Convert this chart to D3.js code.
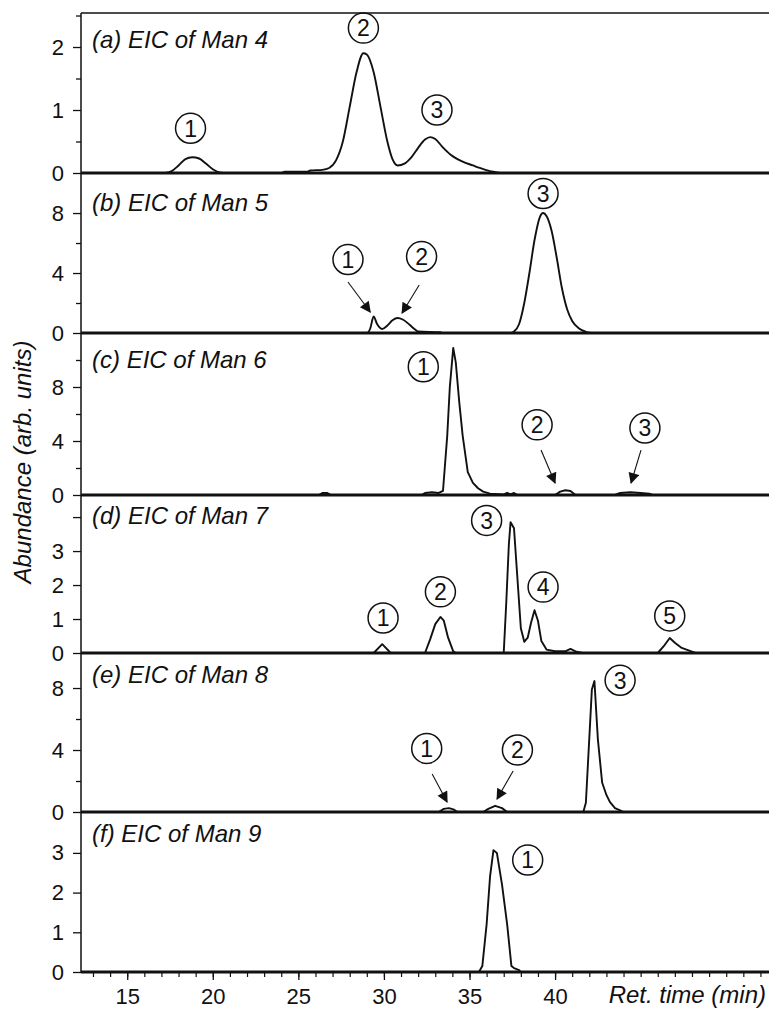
<!DOCTYPE html>
<html>
<head>
<meta charset="utf-8">
<script src="https://cdn.jsdelivr.net/npm/d3@7"></script>
<style>
  body { margin: 0; background: #fff; }
  text { font-family: "Liberation Sans", Arial, sans-serif; fill: #111; }
</style>
</head>
<body>
<div id="chart-area"></div>
<script>
// chromatogram traces, [retention time (min), abundance]
const man4 = [[12.3,0],[17.2,0],[17.6,0.03],[18.0,0.12],[18.4,0.22],[18.8,0.25],[19.2,0.23],[19.6,0.15],[20.0,0.06],[20.4,0.01],[20.8,0],
  [24.0,0],[24.2,0.02],[25.5,0.02],[25.7,0.04],[26.4,0.05],[26.8,0.08],[27.2,0.2],[27.6,0.5],[28.0,1.05],[28.4,1.6],[28.8,1.9],[29.0,1.88],
  [29.4,1.6],[29.8,1.05],[30.2,0.5],[30.5,0.22],[30.8,0.12],[31.2,0.15],[31.6,0.25],[32.0,0.4],[32.4,0.53],[32.7,0.57],[33.0,0.54],
  [33.4,0.42],[33.9,0.29],[34.6,0.18],[35.2,0.12],[35.6,0.08],[36.2,0.03],[36.8,0],[52.5,0]];
const man5 = [[12.3,0],[29.0,0],[29.2,0.3],[29.4,1.1],[29.6,0.6],[29.9,0.27],[30.2,0.5],[30.5,0.85],[30.8,1.0],[31.1,0.9],[31.5,0.55],
  [31.8,0.25],[32.0,0.1],[33.3,0.05],[33.4,0],[37.4,0],[37.6,0.1],[37.9,0.6],[38.2,2.0],[38.5,4.0],[38.8,6.2],[39.1,7.7],[39.3,8.0],
  [39.5,7.8],[39.8,6.8],[40.1,5.0],[40.4,3.0],[40.7,1.6],[41.0,0.8],[41.4,0.3],[41.8,0.08],[42.0,0.02],[42.2,0],[52.5,0]];
const man6 = [[12.3,0],[26.2,0],[26.4,0.15],[26.7,0.15],[26.9,0],[32.2,0],[32.4,0.15],[32.8,0.2],[33.2,0.15],[33.45,0.3],[33.7,4.4],
  [33.85,8.0],[34.05,10.9],[34.2,9.8],[34.4,6.9],[34.6,4.4],[34.9,1.7],[35.2,0.9],[35.5,0.5],[35.8,0.25],[36.2,0.1],[37.0,0.05],
  [37.2,0.15],[37.4,0.05],[37.6,0.15],[37.8,0],[40.0,0],[40.3,0.25],[40.6,0.35],[40.9,0.3],[41.2,0],[43.5,0],[43.8,0.15],[44.4,0.2],
  [45.0,0.15],[45.5,0.1],[45.7,0],[52.5,0]];
const man7 = [[12.3,0],[29.4,0],[29.9,0.26],[30.4,0],[32.4,0],[32.7,0.4],[33.0,0.85],[33.3,1.06],[33.5,0.95],[33.75,0.45],[34.05,0.05],
  [34.2,0],[37.0,0],[37.15,1.5],[37.3,3.2],[37.4,3.85],[37.6,3.67],[37.8,2.2],[38.0,0.73],[38.2,0.33],[38.4,0.45],[38.6,0.9],[38.8,1.26],
  [39.0,0.95],[39.2,0.35],[39.5,0.1],[40.0,0.05],[40.6,0.05],[40.9,0.12],[41.2,0.05],[41.6,0],[46.0,0],[46.35,0.2],[46.7,0.44],[47.0,0.3],
  [47.4,0.15],[47.8,0.08],[48.2,0],[52.5,0]];
const man8 = [[12.3,0],[33.2,0],[33.5,0.2],[33.8,0.25],[34.1,0.15],[34.3,0],[35.8,0],[36.1,0.2],[36.5,0.4],[36.9,0.25],[37.2,0],[41.65,0],
  [41.8,0.6],[42.05,5.8],[42.15,7.9],[42.3,8.45],[42.5,4.7],[42.75,1.9],[43.0,1.1],[43.2,0.65],[43.5,0.25],[43.8,0.1],[44.0,0],[52.5,0]];
const man9 = [[12.3,0],[35.55,0],[35.75,0.15],[36.0,1.2],[36.2,2.4],[36.4,3.07],[36.6,3.0],[36.9,2.2],[37.2,1.2],[37.45,0.15],[37.6,0.1],
  [37.9,0.05],[38.0,0],[52.5,0]];

const traces = [man4, man5, man6, man7, man8, man9];
const titles = ["(a) EIC of Man 4", "(b) EIC of Man 5", "(c) EIC of Man 6", "(d) EIC of Man 7", "(e) EIC of Man 8", "(f) EIC of Man 9"];
const yMax = [2.54, 10.67, 12.0, 4.65, 10.26, 4.03];
const majorTicks = [[0,1,2], [0,4,8], [0,4,8], [0,1,2,3,4], [0,4,8], [0,1,2,3]];
const minorTicks = [[0.5,1.5,2.5], [2,6], [2,6,10], [], [2,6], []];
const xTicks = [15, 20, 25, 30, 35, 40];

// circled peak numbers: [panel, number, time, abundance]
const peakLabels = [[0,1,18.7,0.71],[0,2,28.8,2.3],[0,3,33.1,1.0],
  [1,1,27.9,4.9],[1,2,32.2,5.1],[1,3,39.3,9.3],
  [2,1,32.3,9.5],[2,2,38.95,5.2],[2,3,45.25,4.96],
  [3,1,29.95,1.03],[3,2,33.3,1.8],[3,3,36.0,3.9],[3,4,39.3,1.94],[3,5,46.7,1.09],
  [4,1,32.5,4.1],[4,2,37.8,4.0],[4,3,43.8,8.5],
  [5,1,38.4,2.82]];
// arrows: [panel, fromTime, fromAbund, toTime, toAbund]
const arrows = [[1,27.9,3.4,29.2,1.4],[1,32.06,3.2,31.06,1.33],
  [2,39.18,3.33,40.0,0.89],[2,45.02,3.33,44.44,0.89],
  [4,32.82,2.45,33.69,0.65],[4,37.55,2.65,36.61,0.84]];

const SVG_WIDTH = 769, SVG_HEIGHT = 1009;
const plotLeft = 81, plotRight = 769;
const edges = [13, 173, 333, 495, 653, 812, 972];
const titleDrop = [35, 38, 35, 29, 30, 30];

const svg = d3.select("#chart-area").append("svg")
  .attr("width", SVG_WIDTH).attr("height", SVG_HEIGHT);

svg.append("defs").append("clipPath").attr("id", "plot-clip")
  .append("rect").attr("x", plotLeft).attr("y", edges[0]).attr("width", plotRight - plotLeft).attr("height", edges[6] - edges[0]);
svg.select("defs").append("marker").attr("id", "head")
  .attr("viewBox", "0 0 10 10").attr("refX", 9).attr("refY", 5)
  .attr("markerWidth", 13).attr("markerHeight", 11).attr("markerUnits", "userSpaceOnUse")
  .attr("orient", "auto")
  .append("path").attr("d", "M0,0 L10,5 L0,10 z").attr("fill", "#111");

const x = d3.scaleLinear().domain([12.3, 52.5]).range([plotLeft, plotRight]);

const ys = traces.map((t, i) => d3.scaleLinear().domain([0, yMax[i]]).range([edges[i + 1], edges[i]]));

traces.forEach((trace, i) => {
  const y = ys[i];
  const g = svg.append("g").attr("class", "panel");

  const line = d3.line().x(d => x(d[0])).y(d => y(d[1]))
    .curve(i < 2 ? d3.curveMonotoneX : d3.curveLinear);
  g.append("path").datum(trace)
    .attr("clip-path", "url(#plot-clip)")
    .attr("d", line).attr("fill", "none").attr("stroke", "#111").attr("stroke-width", 1.9)
    .attr("stroke-linejoin", "round");

  // baseline / separator
  g.append("line").attr("x1", plotLeft).attr("x2", plotRight)
    .attr("y1", y(0)).attr("y2", y(0)).attr("stroke", "#111").attr("stroke-width", 3.2);

  const yAxis = d3.axisLeft(y).tickValues(majorTicks[i]).tickSize(8).tickPadding(9)
    .tickFormat(d => (i === 3 && d === 4) ? "" : d);
  const ag = g.append("g").attr("transform", `translate(${plotLeft},0)`).call(yAxis);
  ag.select(".domain").remove();
  ag.selectAll("line").attr("stroke", "#111").attr("stroke-width", 1.3);
  ag.selectAll("text").attr("font-size", "22px").attr("fill", "#111");

  const mg = g.append("g").attr("transform", `translate(${plotLeft},0)`)
    .call(d3.axisLeft(y).tickValues(minorTicks[i]).tickSize(5).tickFormat(""));
  mg.select(".domain").remove();
  mg.selectAll("line").attr("stroke", "#111").attr("stroke-width", 1.3);

  g.append("text").attr("x", plotLeft + 11).attr("y", edges[i] + titleDrop[i])
    .attr("font-size", "24px").attr("font-style", "italic")
    .text(titles[i]);
});

// top border and left axis
svg.append("line").attr("x1", plotLeft).attr("x2", plotRight).attr("y1", edges[0]).attr("y2", edges[0])
  .attr("stroke", "#111").attr("stroke-width", 1.5);
svg.append("line").attr("x1", plotLeft).attr("x2", plotLeft).attr("y1", edges[0]).attr("y2", edges[6])
  .attr("stroke", "#111").attr("stroke-width", 1.5);

// peak number circles
const lg = svg.append("g");
peakLabels.forEach(([p, n, t, v]) => {
  const cx = x(t), cy = ys[p](v);
  lg.append("circle").attr("cx", cx).attr("cy", cy).attr("r", 15)
    .attr("fill", "none").attr("stroke", "#111").attr("stroke-width", 1.5);
  lg.append("text").attr("x", cx).attr("y", cy).attr("dy", "0.36em")
    .attr("text-anchor", "middle").attr("font-size", "23px").text(n);
});

arrows.forEach(([p, t1, v1, t2, v2]) => {
  lg.append("line").attr("x1", x(t1)).attr("y1", ys[p](v1)).attr("x2", x(t2)).attr("y2", ys[p](v2))
    .attr("stroke", "#111").attr("stroke-width", 1.1).attr("marker-end", "url(#head)");
});

// x axis
const xg = svg.append("g").attr("transform", `translate(0,${edges[6]})`);
const minorX = xg.append("g").call(d3.axisBottom(x).tickValues(d3.range(13, 53)).tickSize(5).tickFormat(""));
minorX.select(".domain").remove();
minorX.selectAll("line").attr("stroke", "#111").attr("stroke-width", 1.2);
const majorX = xg.append("g").call(d3.axisBottom(x).tickValues(xTicks).tickSize(8).tickPadding(8));
majorX.select(".domain").remove();
majorX.selectAll("line").attr("stroke", "#111").attr("stroke-width", 1.3);
majorX.selectAll("text").attr("font-size", "22px").attr("fill", "#111");

svg.append("text").attr("x", 766).attr("y", 1003).attr("text-anchor", "end")
  .attr("font-size", "24px").attr("font-style", "italic").text("Ret. time (min)");

svg.append("text").attr("transform", `translate(31,${462}) rotate(-90)`)
  .attr("text-anchor", "middle").attr("font-size", "24px").attr("font-style", "italic")
  .text("Abundance (arb. units)");
</script>
</body>
</html>
